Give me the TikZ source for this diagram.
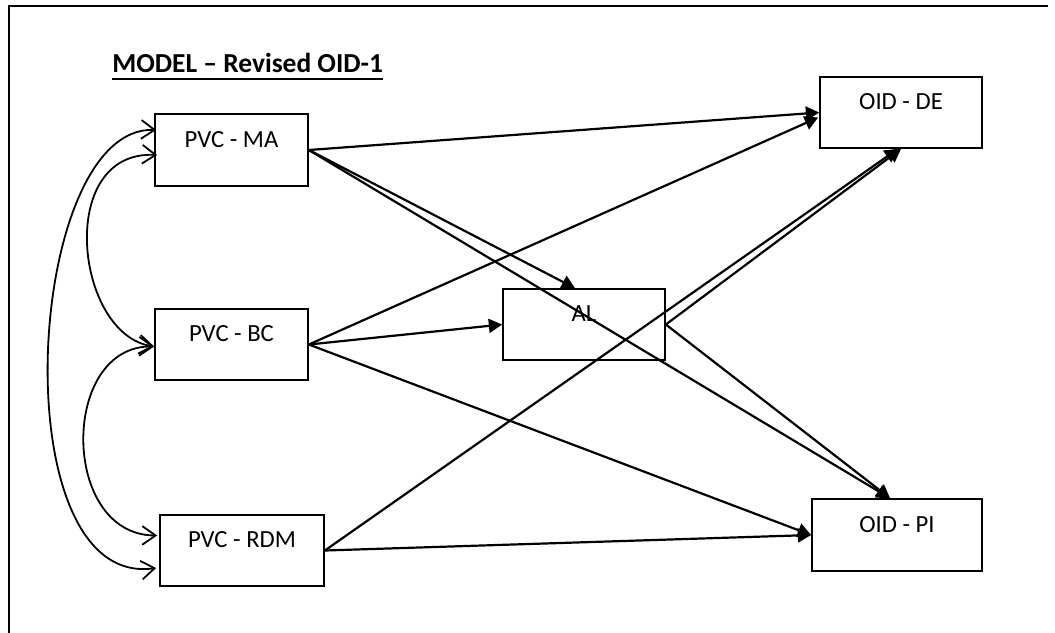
\documentclass[tikz,border=0pt]{standalone}
\usepackage{fontspec}
\setmainfont{Carlito}
\usetikzlibrary{arrows.meta,calc}
% heading with a thick rule under it
\newcommand\headbar[1]{\setbox0=\hbox{#1}\rlap{\rule[-6.3pt]{\wd0}{1.9pt}}\box0}
\begin{document}
\begin{tikzpicture}[x=0.75pt,y=-0.75pt,
  box/.style={draw,line width=1.25pt,inner sep=0pt,
    font=\fontsize{18.5}{20}\selectfont,text height=12pt,text depth=16.1pt},
  effect/.style={line width=1.65pt,-{Triangle[length=10pt,width=10.5pt]}},
  cov/.style={line width=1.35pt,
    {Straight Barb[length=10pt,width=14pt]}-{Straight Barb[length=10pt,width=14pt]}}]
\useasboundingbox (0,0) rectangle (1055,632);

% frame
\coordinate (corner) at (9,6);
\coordinate (frameB) at (9,640);
\coordinate (frameR) at (1048,6);
\draw[line width=2.2pt] (frameB) -- (corner) -- (frameR);

% heading
\node[anchor=base west,inner sep=0pt,font=\fontsize{20.6}{22}\selectfont\bfseries]
  (title) at (112,72) {\headbar{MODEL – Revised OID-1}};

% variables
\node[box,minimum width=114.75pt,minimum height=54pt]   (ma)  at (231.5,150)   {PVC - MA};
\node[box,minimum width=114.75pt,minimum height=53.25pt] (bc)  at (231.5,344.5) {PVC - BC};
\node[box,minimum width=123pt,minimum height=53.25pt]    (rdm) at (242,550.5)   {PVC - RDM};
\node[box,minimum width=121.5pt,minimum height=53.25pt]  (al)  at (584,324.5)   {AL};
\node[box,minimum width=121.5pt,minimum height=53.25pt]  (de)  at (901,112.5)   {OID - DE};
\node[box,minimum width=127.5pt,minimum height=54pt]     (pi)  at (897,535)     {OID - PI};

% direct effects
\draw[effect] (ma.east) -- (de.west);
\draw[effect] (ma.east) -- ($(al.north)+(-9,0)$);
\draw[effect] (ma.east) -- ($(pi.north)+(-7,0)$);
\draw[effect] (bc.east) -- ($(de.west)+(-1,5)$);
\draw[effect] (bc.east) -- (al.west);
\draw[effect] (bc.east) -- (pi.west);
\draw[effect] (rdm.east) -- ($(de.south)+(-3,0)$);
\draw[effect] (rdm.east) -- (pi.west);
\draw[effect] (al.east) -- (de.south);
\draw[effect] (al.east) -- ($(pi.north)+(-7,0)$);

% covariances between the exogenous variables
\draw[cov] ($(ma.west)+(2,-20)$) .. controls (25,125) and (0,590) .. ($(rdm.west)+(-3,17.5)$);
\draw[cov] ($(ma.west)+(3,5)$) .. controls (55,150) and (75,335) .. ($(bc.west)+(0,2)$);
\draw[cov] ($(bc.west)+(0,2)$) .. controls (60,345) and (60,535) .. ($(rdm.west)+(-2,-15)$);
\end{tikzpicture}
\end{document}
